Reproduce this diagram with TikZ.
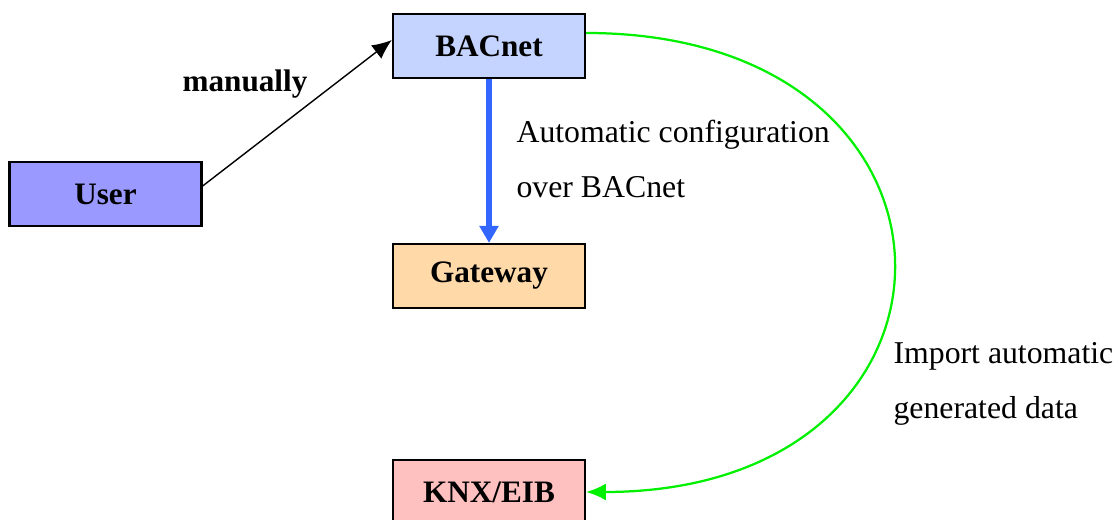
\documentclass[tikz,border=0pt]{standalone}
\usepackage{fontspec}
\setmainfont{Liberation Serif}
\usetikzlibrary{arrows.meta}
\definecolor{bacnetfill}{RGB}{197,211,255}
\definecolor{userfill}{RGB}{153,153,255}
\definecolor{gatefill}{RGB}{255,217,168}
\definecolor{knxfill}{RGB}{255,192,192}
\definecolor{cfgblue}{RGB}{51,102,255}
\definecolor{importgreen}{RGB}{0,240,0}
\tikzstyle{box}=[draw, line width=0.8pt, minimum width=2.4cm, minimum height=0.8cm, inner sep=0pt, font=\fontsize{11.1}{13}\selectfont\bfseries]
\tikzstyle{note}=[inner sep=0pt, align=left, anchor=north west, font=\fontsize{11.3}{19.56}\selectfont]
\tikzstyle{msg}=[-{Latex[length=7pt, width=6pt]}, line width=0.5pt]

\begin{document}
\begin{tikzpicture}
    \useasboundingbox (0, 0) rectangle (14, 6.5);
    \node[box, fill=bacnetfill] (bacnet) at (6.1125, 5.925) {BACnet};
    \node[box, fill=userfill] (user) at (1.319, 4.075) {User};
    \node[box, fill=gatefill] (gateway) at (6.1125, 3.05) {Gateway};
    \node[box, fill=knxfill] (knx) at (6.1125, 0.35) {KNX/EIB};
    \node[font=\fontsize{11.1}{13}\selectfont\bfseries] (manually) at (3.0625, 5.45) {manually};
    \node[note] (autocfg) at (6.45, 5.0) {Automatic configuration\\over BACnet};
    \node[note] (import) at (11.1625, 2.225) {Import automatic\\generated data};
    \draw[msg] ([yshift=0.1cm]user.east) -- ([yshift=0.075cm]bacnet.west);
    \draw[msg, cfgblue, line width=1.8pt, -{Triangle[length=6pt, width=6.5pt]}] (bacnet) -- (gateway);
    \draw[msg, importgreen, line width=0.8pt] ([yshift=0.1625cm]bacnet.east)
        .. controls (12.4375, 6.0875) and (12.4375, 0.35) .. (knx.east);
\end{tikzpicture}
\end{document}
